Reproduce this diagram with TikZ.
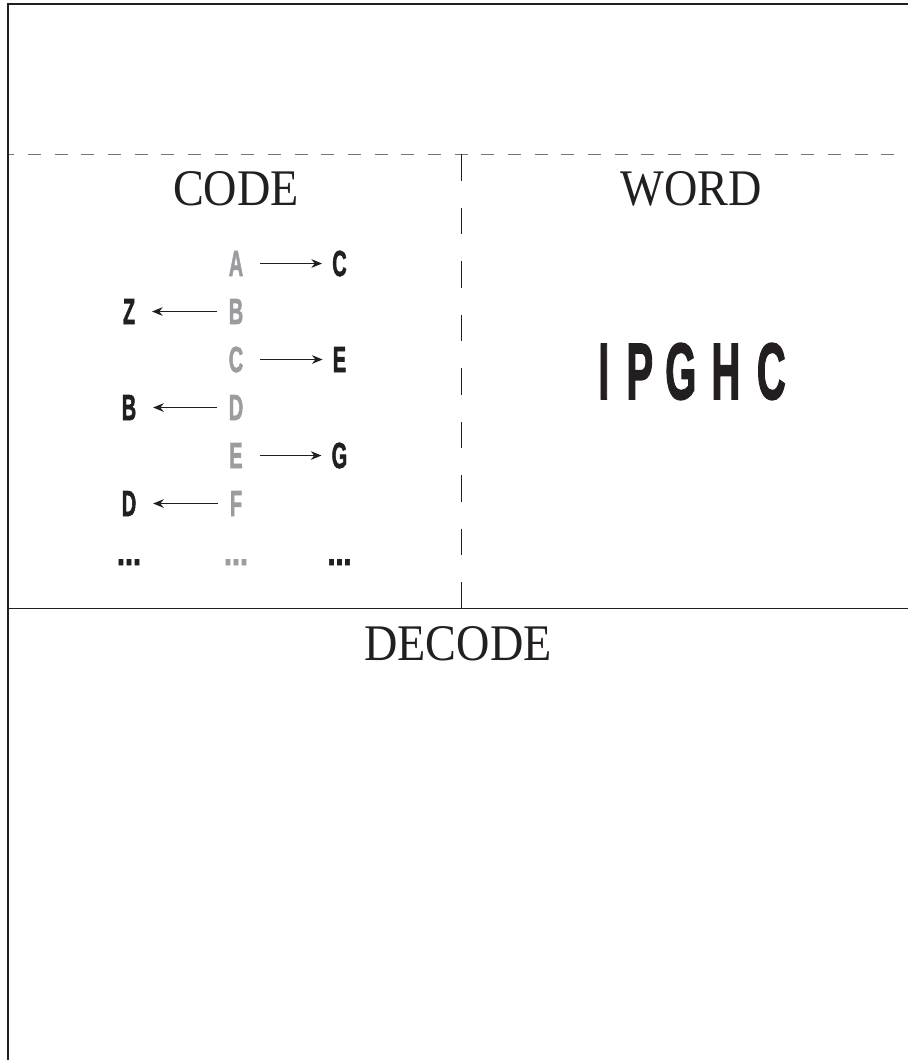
\documentclass[tikz,border=0pt]{standalone}
\usepackage{fontspec}
\setmainfont{Liberation Serif}
\newfontfamily\condfont[BoldFeatures={FakeBold=2.2}]{Liberation Sans}
\usetikzlibrary{arrows.meta}
\definecolor{ink}{HTML}{231F20}
\definecolor{lgray}{HTML}{9B9C9F}
\definecolor{dgray}{HTML}{6E767B}
\newcommand\cond[2][0.55]{\scalebox{#1}[1]{#2}}
\begin{document}
\begin{tikzpicture}[x=0.75pt,y=-0.75pt,
  heading/.style={font=\fontsize{38.5pt}{40pt}\selectfont, text=ink, inner sep=0pt, anchor=base},
  srcletter/.style={font=\condfont\bfseries\fontsize{27.2pt}{28pt}\selectfont, text=lgray, inner sep=0pt, anchor=base},
  dstletter/.style={srcletter, text=ink},
  arr/.style={draw=ink, line width=0.8pt, -{Stealth[length=8pt,width=6.5pt]}},
  rarr/.style={arr, shorten <=12.5pt, shorten >=7.5pt},
  larr/.style={arr, shorten <=9pt, shorten >=12.5pt}]
\useasboundingbox (0,0) rectangle (908,1060);
% frame and dividers
\draw[ink, line width=1.7pt, line join=miter] (7.8,1060) -- (7.8,3.7) -- (908,3.7);
\draw[dgray, line width=1.1pt, dash pattern=on 9.75pt off 10.25pt, dash phase=5.55pt] (8.8,154.5) -- (908,154.5);
\draw[ink, line width=0.75pt, dash pattern=on 19.9pt off 20.25pt] (461.5,154) -- (461.5,608);
\draw[ink, line width=1pt] (8.8,608.5) -- (908,608.5);
% headings
\node[heading] (code) at (236,205) {\scalebox{0.9}[1]{CODE}};
\node[heading] (wordtitle) at (691,205) {\scalebox{0.9}[1]{WORD}};
\node[heading] (decode) at (458,660) {\scalebox{0.9}[1]{DECODE}};
% the word
\node[font=\condfont\bfseries\fontsize{60pt}{60pt}\selectfont, text=ink, inner sep=0pt, anchor=base] (word) at (692,399)
  {\cond[0.5]{I}\hspace{12.8pt}\cond[0.5]{P}\hspace{9.1pt}\cond[0.5]{G}\hspace{11.25pt}\cond[0.5]{H}\hspace{12.45pt}\cond[0.5]{C}};
% source column
\node[srcletter] (s1) at (236,276) {\cond{A}};
\node[srcletter] (s2) at (236,324) {\cond{B}};
\node[srcletter] (s3) at (236,372) {\cond{C}};
\node[srcletter] (s4) at (236,420) {\cond{D}};
\node[srcletter] (s5) at (236,468) {\cond{E}};
\node[srcletter] (s6) at (236,516) {\cond{F}};
\node[srcletter] (s7) at (236,565) {\cond[0.8]{...}};
% right column
\node[dstletter] (r1) at (339.5,276) {\cond{C}};
\node[dstletter] (r3) at (339.5,372) {\cond{E}};
\node[dstletter] (r5) at (339.5,468) {\cond{G}};
\node[dstletter] (r7) at (339.5,565) {\cond[0.8]{...}};
% left column
\node[dstletter] (l2) at (129,324) {\cond{Z}};
\node[dstletter] (l4) at (129,420) {\cond{B}};
\node[dstletter] (l6) at (129,516) {\cond{D}};
\node[dstletter] (l7) at (129,565) {\cond[0.8]{...}};
% arrows
\draw[rarr] (s1.east) -- (s1.east -| r1.west);
\draw[rarr] (s3.east) -- (s3.east -| r3.west);
\draw[rarr] (s5.east) -- (s5.east -| r5.west);
\draw[larr] (s2.west) -- (s2.west -| l2.east);
\draw[larr] (s4.west) -- (s4.west -| l4.east);
\draw[larr] (s6.west) -- (s6.west -| l6.east);
\end{tikzpicture}
\end{document}
